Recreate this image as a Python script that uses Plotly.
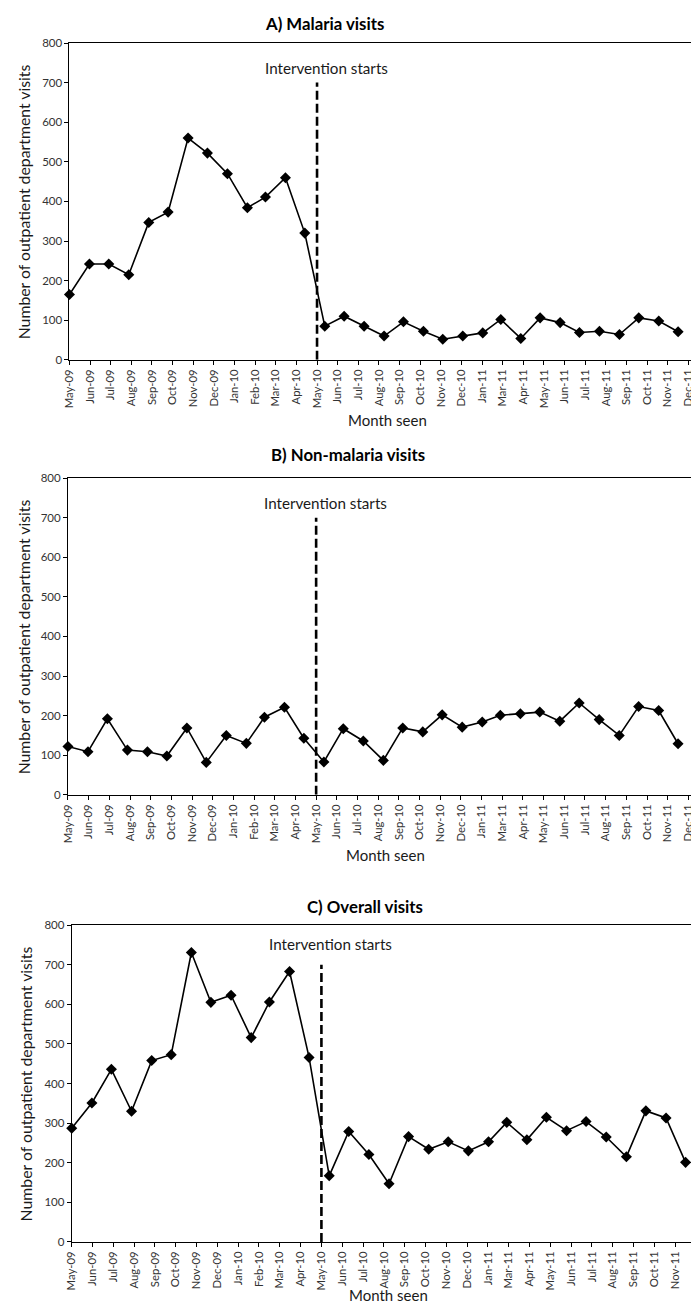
import plotly.graph_objects as go
from datetime import date, timedelta

months = ["2009-05-01", "2009-06-01", "2009-07-01", "2009-08-01", "2009-09-01", "2009-10-01",
          "2009-11-01", "2009-12-01", "2010-01-01", "2010-02-01", "2010-03-01", "2010-04-01",
          "2010-05-01", "2010-06-01", "2010-07-01", "2010-08-01", "2010-09-01", "2010-10-01",
          "2010-11-01", "2010-12-01", "2011-01-01", "2011-02-01", "2011-03-01", "2011-04-01",
          "2011-05-01", "2011-06-01", "2011-07-01", "2011-08-01", "2011-09-01", "2011-10-01",
          "2011-11-01", "2011-12-01"]

malaria = [165, 242, 242, 215, 347, 373, 560, 522, 470, 384, 411, 460, 320,
           85, 110, 85, 60, 96, 72, 52, 60, 68, 102, 54, 106, 94, 69, 72, 64, 106, 98, 71]
non_malaria = [122, 109, 192, 113, 109, 98, 169, 82, 150, 130, 196, 221, 143,
               83, 167, 136, 87, 169, 159, 202, 171, 184, 201, 205, 209, 186, 232, 190, 150, 223, 213, 129]
overall = [287, 351, 436, 330, 458, 473, 731, 605, 623, 516, 606, 683, 466,
           167, 279, 221, 147, 266, 234, 253, 230, 253, 302, 258, 315, 281, 304, 265, 215, 331, 313, 201]

tick_labels = ["May-09", "Jun-09", "Jul-09", "Aug-09", "Sep-09", "Oct-09", "Nov-09", "Dec-09",
               "Jan-10", "Feb-10", "Mar-10", "Apr-10", "May-10", "Jun-10", "Jul-10", "Aug-10",
               "Sep-10", "Oct-10", "Nov-10", "Dec-10", "Jan-11", "Mar-11", "Apr-11", "May-11",
               "Jun-11", "Jul-11", "Aug-11", "Sep-11", "Oct-11", "Nov-11", "Dec-11"]
panel_titles = ["A) Malaria visits", "B) Non-malaria visits", "C) Overall visits"]
y_ticks = [0, 100, 200, 300, 400, 500, 600, 700, 800]
intervention_label = "Intervention starts"
intervention_top = 700
intervention_text_y = [738, 736, 752]
x_end = "2012-01-01"

# Excel-style date axis: major unit of 32 days from the first month
start = date(2009, 5, 1)
tick_dates = [(start + timedelta(days=32 * k)).isoformat() for k in range(len(tick_labels))]
intervention_x = tick_dates[12]

W, H = 699, 1305
def fx(p):
    return p / W
def fy(p):
    return 1 - p / H

FONT = "Lato, 'Open Sans', sans-serif"
TXT = "#1a1a1a"

# plot-area pixel boxes (left, right, top, bottom)
boxes = [(55, 690, 28.3, 348.3), (53.5, 690, 467.7, 787.7), (57.3, 697.7, 919.3, 1239.3)]
title_pos = [(313, 9), (336, 444), (354, 900)]
xtitle_pos = [(376, 409), (374.5, 848.5), (377.5, 1293)]
ytitle_x = [9, 9, 11]

series = [malaria, non_malaria, overall]

fig = go.Figure()
annotations = []
for i, (vals, box) in enumerate(zip(series, boxes)):
    xa = "x" if i == 0 else f"x{i+1}"
    ya = "y" if i == 0 else f"y{i+1}"
    fig.add_trace(go.Scatter(x=[intervention_x, intervention_x], y=[0, intervention_top],
                             mode="lines", line=dict(color="black", width=2.6, dash="9px,4px"),
                             xaxis=xa, yaxis=ya, hoverinfo="skip", showlegend=False))
    fig.add_trace(go.Scatter(x=months, y=vals, mode="lines+markers",
                             line=dict(color="black", width=1.6),
                             marker=dict(symbol="diamond", size=8.5, color="black"),
                             cliponaxis=False, xaxis=xa, yaxis=ya, showlegend=False))
    l, r, t, b = box
    xkey = "xaxis" if i == 0 else f"xaxis{i+1}"
    ykey = "yaxis" if i == 0 else f"yaxis{i+1}"
    fig.update_layout(**{
        xkey: dict(domain=[fx(l), fx(r)], anchor=ya, type="date",
                   range=[tick_dates[0], x_end],
                   tickmode="array", tickvals=tick_dates, ticktext=tick_labels,
                   tickangle=-90, ticks="outside", ticklen=4, tickcolor="black",
                   showline=True, linecolor="black", linewidth=1, mirror=True,
                   showgrid=False, zeroline=False,
                   tickfont=dict(family=FONT, size=11.3, color="#333333")),
        ykey: dict(domain=[fy(b), fy(t)], anchor=xa, range=[0, 800],
                   tickmode="array", tickvals=y_ticks,
                   ticks="outside", ticklen=4, tickcolor="black",
                   showline=True, linecolor="black", linewidth=1, mirror=True,
                   showgrid=False, zeroline=False,
                   tickfont=dict(family=FONT, size=11.5, color="#333333")),
    })
    annotations.append(dict(xref=xa, yref=ya, x=intervention_x, y=intervention_text_y[i],
                            text=intervention_label, showarrow=False, xshift=9,
                            font=dict(family=FONT, size=15.2, color=TXT)))
    tx, ty = title_pos[i]
    annotations.append(dict(xref="paper", yref="paper", x=fx(tx), y=fy(ty),
                            text=f"<b>{panel_titles[i]}</b>", showarrow=False,
                            xanchor="center", yanchor="middle",
                            font=dict(family=FONT, size=16.8, color="black")))
    mx, my = xtitle_pos[i]
    annotations.append(dict(xref="paper", yref="paper", x=fx(mx), y=fy(my),
                            text="Month seen", showarrow=False,
                            xanchor="center", yanchor="middle",
                            font=dict(family=FONT, size=15, color=TXT)))
    annotations.append(dict(xref="paper", yref="paper", x=fx(ytitle_x[i]), y=fy((t + b) / 2),
                            text="Number of outpatient department visits", showarrow=False,
                            textangle=-90, xanchor="center", yanchor="middle",
                            font=dict(family=FONT, size=15.8, color=TXT)))

fig.update_layout(width=W, height=H, margin=dict(l=0, r=0, t=0, b=0),
                  paper_bgcolor="white", plot_bgcolor="white",
                  annotations=annotations, showlegend=False)

fig.write_html("out.html")
